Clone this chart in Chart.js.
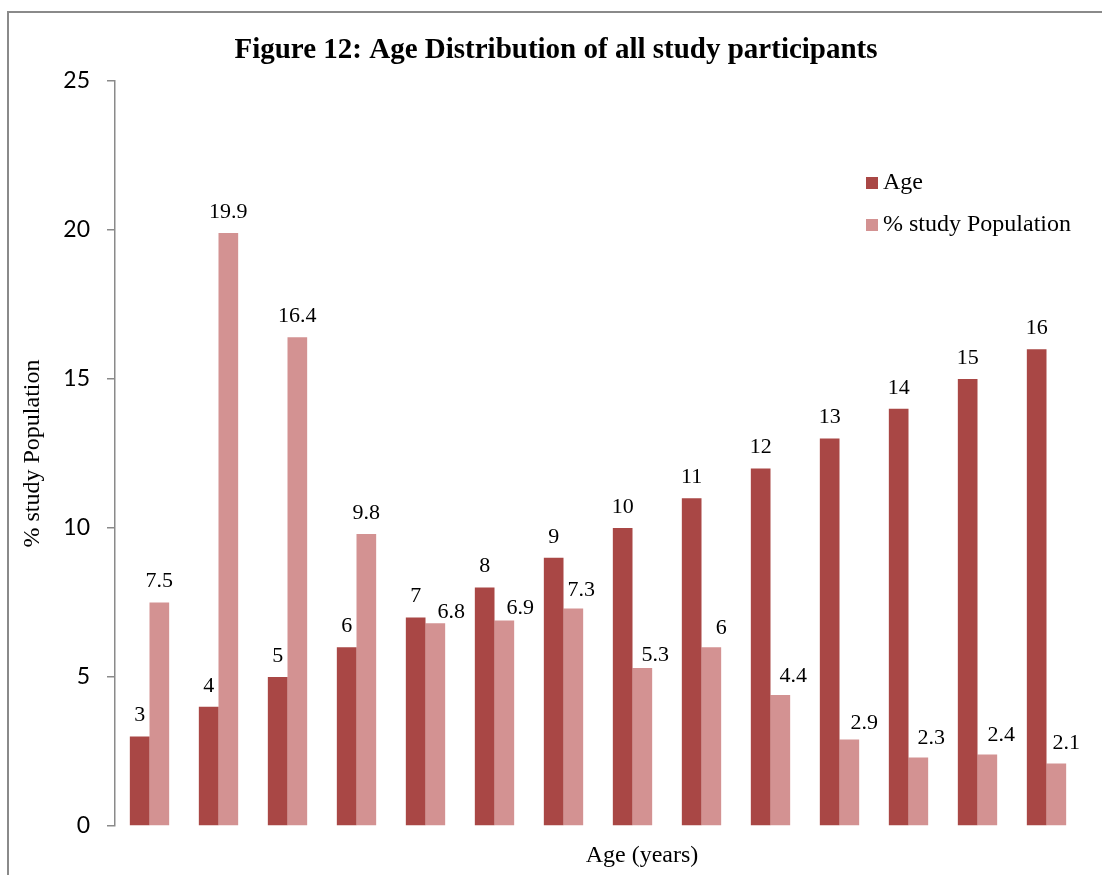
<!DOCTYPE html>
<html>
<head>
<meta charset="utf-8">
<title>Age Distribution of all study participants</title>
<script src="https://cdn.jsdelivr.net/npm/chart.js@4"></script>
<style>
  html, body { margin: 0; padding: 0; background: #ffffff; }
  #chart { display: block; }
</style>
</head>
<body>
<canvas id="chart" width="1102" height="875"></canvas>
<script>
// Age groups (years) shown along the horizontal axis
const ages = ['3', '4', '5', '6', '7', '8', '9', '10', '11', '12', '13', '14', '15', '16'];
// First series: the age value itself
const ageValues = [3, 4, 5, 6, 7, 8, 9, 10, 11, 12, 13, 14, 15, 16];
// Second series: share of the study population (%)
const studyPopulation = [7.5, 19.9, 16.4, 9.8, 6.8, 6.9, 7.3, 5.3, 6, 4.4, 2.9, 2.3, 2.4, 2.1];
// Vertical axis ticks
const yTicks = [0, 5, 10, 15, 20, 25];

const chartTitle = 'Figure 12: Age Distribution of all study participants';
const xTitle = 'Age (years)';
const yTitle = '% study Population';
const seriesNames = ['Age', '% study Population'];

const DARK = '#a94745';
const LIGHT = '#d39292';
const AXIS = '#8a8a8a';
const SERIF = '"Liberation Serif", "Times New Roman", serif';

// Value labels sit 21px above their bar; some labels of the second
// series are nudged sideways so they clear the neighbouring bar.
const LABEL_GAP = 21;
const popLabelNudge = [
  [0, 0], [0, 0], [0, 0], [0, 0], [16, 10], [16, 9], [8, 3],
  [13, 8], [10, 2], [13, 2], [15, 5], [13, 2], [14, 2], [10, 1]
];

// Frame, titles, legend and value labels drawn on top of the bars
const decorations = {
  id: 'decorations',
  afterDraw(chart) {
    const ctx = chart.ctx;
    const area = chart.chartArea;
    ctx.save();

    // outer frame (left and top edges)
    ctx.strokeStyle = AXIS;
    ctx.lineWidth = 2;
    ctx.beginPath();
    ctx.moveTo(8, chart.height);
    ctx.lineTo(8, 12);
    ctx.lineTo(chart.width, 12);
    ctx.stroke();

    ctx.fillStyle = '#000';
    ctx.textAlign = 'center';
    ctx.textBaseline = 'middle';

    // chart title
    ctx.font = 'bold 29px ' + SERIF;
    ctx.fillText(chartTitle, 556, 51);

    // x axis title
    ctx.font = '24px ' + SERIF;
    ctx.fillText(xTitle, 642, 856);

    // y axis title
    ctx.save();
    ctx.translate(33, (area.top + area.bottom) / 2);
    ctx.rotate(-Math.PI / 2);
    ctx.fillText(yTitle, 0, 0);
    ctx.restore();

    // legend
    const colors = [DARK, LIGHT];
    const legendY = [183, 225];
    ctx.textAlign = 'left';
    seriesNames.forEach((name, i) => {
      ctx.fillStyle = colors[i];
      ctx.fillRect(866, legendY[i] - 6, 12, 12);
      ctx.fillStyle = '#000';
      ctx.fillText(name, 883, legendY[i]);
    });

    // value labels above each bar
    ctx.textAlign = 'center';
    ctx.font = '22px ' + SERIF;
    chart.data.datasets.forEach((ds, di) => {
      const meta = chart.getDatasetMeta(di);
      meta.data.forEach((bar, i) => {
        const nudge = di === 1 ? popLabelNudge[i] : [0, 0];
        ctx.fillText(String(ds.data[i]), bar.x + nudge[0], bar.y - LABEL_GAP + nudge[1]);
      });
    });

    ctx.restore();
  }
};

new Chart(document.getElementById('chart'), {
  type: 'bar',
  data: {
    labels: ages,
    datasets: [
      {
        label: seriesNames[0],
        data: ageValues,
        backgroundColor: DARK,
        borderWidth: 0,
        categoryPercentage: 0.57,
        barPercentage: 1.0
      },
      {
        label: seriesNames[1],
        data: studyPopulation,
        backgroundColor: LIGHT,
        borderWidth: 0,
        categoryPercentage: 0.57,
        barPercentage: 1.0
      }
    ]
  },
  options: {
    responsive: false,
    animation: false,
    devicePixelRatio: 1,
    layout: { padding: { left: 0, right: 21, top: 81, bottom: 49 } },
    plugins: {
      legend: { display: false },
      title: { display: false },
      tooltip: { enabled: false }
    },
    scales: {
      x: {
        grid: { display: false },
        border: { display: false },
        ticks: { display: false },
        afterFit(scale) { scale.height = 0; }
      },
      y: {
        min: 0,
        max: 25,
        afterBuildTicks(scale) { scale.ticks = yTicks.map(v => ({ value: v })); },
        afterFit(scale) { scale.width = 115; },
        grid: {
          drawOnChartArea: false,
          drawTicks: true,
          tickLength: 8,
          color: AXIS,
          lineWidth: 1.5
        },
        border: { display: true, color: AXIS, width: 1.5 },
        ticks: {
          padding: 17,
          color: '#000',
          font: { family: 'Lato, "Open Sans", sans-serif', size: 23 }
        }
      }
    }
  },
  plugins: [decorations]
});
</script>
</body>
</html>
